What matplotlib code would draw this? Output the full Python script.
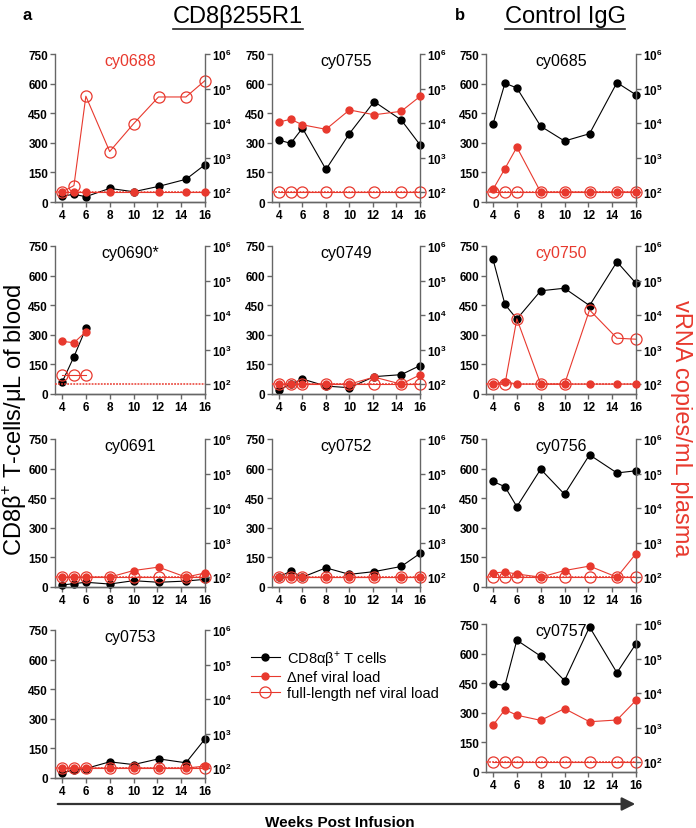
import matplotlib.pyplot as plt
from matplotlib.lines import Line2D
from matplotlib.patches import FancyArrowPatch

plt.rcParams['font.family'] = ['Liberation Sans', 'DejaVu Sans']
plt.rcParams['mathtext.fontset'] = 'custom'
plt.rcParams['mathtext.rm'] = 'Liberation Sans'
plt.rcParams['mathtext.bf'] = 'Liberation Sans:bold'

RED = '#e8392e'
SPINE = '#666666'

weeks = [4, 5, 6, 8, 10, 12.1, 14.4, 16]
weeks_0690 = [4, 5, 6]

# CD8ab+ T cells / uL (left axis)
cd8_0688 = [30, 39, 27, 69, 52, 79, 115, 189]
cd8_0755 = [314, 297, 374, 165, 347, 509, 416, 290]
cd8_0685 = [396, 602, 578, 384, 309, 346, 605, 543]
cd8_0690 = [59, 189, 332]
cd8_0749 = [20, 50, 76, 40, 32, 88, 98, 144]
cd8_0750 = [682, 454, 380, 523, 536, 448, 670, 561]
cd8_0691 = [10, 17, 24, 15, 32, 24, 30, 39]
cd8_0752 = [50, 81, 50, 97, 64, 78, 104, 170]
cd8_0756 = [535, 508, 407, 597, 470, 670, 578, 589]
cd8_0753 = [27, 41, 48, 82, 68, 97, 77, 198]
cd8_0757 = [448, 438, 668, 587, 463, 735, 503, 650]

# delta-nef viral load, copies/mL (right axis)
dnef_0688 = [100, 100, 100, 100, 100, 100, 100, 100]
dnef_0755 = [10700, 12900, 8900, 6600, 24000, 17400, 21900, 59000]
dnef_0685 = [120, 480, 2000, 100, 100, 100, 100, 100]
dnef_0690 = [1740, 1580, 3300]
dnef_0749 = [100, 100, 100, 100, 100, 160, 100, 186]
dnef_0750 = [100, 118, 100, 100, 100, 100, 100, 100]
dnef_0691 = [100, 100, 100, 100, 155, 195, 100, 132]
dnef_0752 = [100, 100, 100, 100, 100, 100, 100, 100]
dnef_0756 = [132, 141, 123, 100, 155, 209, 100, 480]
dnef_0753 = [100, 100, 100, 100, 100, 100, 100, 115]
dnef_0757 = [1175, 3300, 2290, 1620, 3550, 1480, 1660, 6170]

# full-length nef viral load, copies/mL (right axis)
full_0688 = [100, 155, 60000, 1500, 9500, 57000, 57000, 170000]
full_0755 = [100, 100, 100, 100, 100, 100, 100, 100]
full_0685 = [100, 100, 100, 100, 100, 100, 100, 100]
full_0690 = [186, 186, 186]
full_0749 = [100, 100, 100, 100, 100, 100, 100, 100]
full_0750 = [100, 100, 7800, 100, 100, 14100, 2140, 2000]
full_0691 = [100, 100, 100, 100, 100, 100, 100, 100]
full_0752 = [100, 100, 100, 100, 100, 100, 100, 100]
full_0756 = [100, 100, 100, 100, 100, 100, 100, 100]
full_0753 = [100, 100, 100, 100, 100, 100, 100, 100]
full_0757 = [100, 100, 100, 100, 100, 100, 100, 100]

detection_limit = 100

W, H = 696, 829
fig = plt.figure(figsize=(W / 100, H / 100), dpi=100)


def px_axes(left, bottom, width, height):
    # pixel box (bottom = y of the x axis from the top) -> figure fraction
    return fig.add_axes([left / W, 1 - bottom / H, width / W, height / H])


def draw_panel(box, title, wk, cd8, dnef, full, title_color='black'):
    ax = px_axes(*box)
    ax2 = ax.twinx()

    ax.plot(wk, cd8, '-o', color='black', lw=0.8, ms=5, clip_on=False, zorder=3)
    ax2.axhline(detection_limit, color=RED, lw=1.1, ls=(0, (1.2, 0.8)), zorder=1)
    ax2.plot(wk, full, '-o', color=RED, lw=0.8, ms=8, mfc='none', mew=0.9,
             clip_on=False, zorder=2)
    ax2.plot(wk, dnef, '-o', color=RED, lw=0.8, ms=5, clip_on=False, zorder=3)

    ax.set_xlim(3.41, 16)
    ax.set_ylim(0, 750)
    ax.set_xticks([4, 6, 8, 10, 12, 14, 16])
    ax.set_yticks([0, 150, 300, 450, 600, 750])
    ax2.set_yscale('log')
    ax2.set_ylim(10 ** (2 - 50 / 175), 1e6)
    ax2.set_yticks([1e2, 1e3, 1e4, 1e5, 1e6])
    ax2.set_yticklabels([r'$\mathbf{10^{%d}}$' % p for p in range(2, 7)])
    ax2.minorticks_off()

    for a in (ax, ax2):
        a.spines['top'].set_visible(False)
        for s in a.spines.values():
            s.set_color(SPINE)
            s.set_linewidth(1.0)
        a.tick_params(length=3.5, width=1.0, color=SPINE, labelsize=8.5, pad=1.5)
    ax.spines['right'].set_visible(False)
    ax2.spines['left'].set_visible(False)
    for lab in ax.get_xticklabels() + ax.get_yticklabels():
        lab.set_fontweight('bold')
    ax.text(0.5, 0.955, title, transform=ax.transAxes, ha='center', va='center',
            fontsize=11.5, color=title_color)
    return ax


cols = [55, 272, 486]
widths = [150, 148, 150]
h = 148

draw_panel((cols[0], 203, widths[0], h), 'cy0688', weeks, cd8_0688, dnef_0688, full_0688, RED)
draw_panel((cols[0], 395, widths[0], h), 'cy0690*', weeks_0690, cd8_0690, dnef_0690, full_0690)
draw_panel((cols[0], 588, widths[0], h), 'cy0691', weeks, cd8_0691, dnef_0691, full_0691)
draw_panel((cols[0], 779, widths[0], h), 'cy0753', weeks, cd8_0753, dnef_0753, full_0753)

draw_panel((cols[1], 203, widths[1], h), 'cy0755', weeks, cd8_0755, dnef_0755, full_0755)
draw_panel((cols[1], 395, widths[1], h), 'cy0749', weeks, cd8_0749, dnef_0749, full_0749)
draw_panel((cols[1], 588, widths[1], h), 'cy0752', weeks, cd8_0752, dnef_0752, full_0752)

draw_panel((cols[2], 203, widths[2], h), 'cy0685', weeks, cd8_0685, dnef_0685, full_0685)
draw_panel((cols[2], 395, widths[2], h), 'cy0750', weeks, cd8_0750, dnef_0750, full_0750, RED)
draw_panel((cols[2], 588, widths[2], h), 'cy0756', weeks, cd8_0756, dnef_0756, full_0756)
draw_panel((cols[2], 773, widths[2], h), 'cy0757', weeks, cd8_0757, dnef_0757, full_0757)

# legend in the empty slot
handles = [
    Line2D([], [], color='black', marker='o', lw=0.8, ms=5),
    Line2D([], [], color=RED, marker='o', lw=0.8, ms=5),
    Line2D([], [], color=RED, marker='o', lw=0.8, ms=8, mfc='none', mew=0.9),
]
labels = [r'CD8αβ$^{+}$ T cells', 'Δnef viral load', 'full-length nef viral load']
fig.legend(handles, labels, loc='upper left', bbox_to_anchor=(245 / W, 1 - 643 / H),
           frameon=False, fontsize=10.5, handlelength=2.0, handletextpad=0.5,
           labelspacing=0.15, borderaxespad=0)

# axis labels shared by all panels
fig.text(15 / W, 1 - 420 / H, r'CD8β$^{+}$ T-cells/μL of blood', rotation=90,
         ha='center', va='center', fontsize=17)
fig.text(681 / W, 1 - 428 / H, 'vRNA copies/mL plasma', rotation=270, color=RED,
         ha='center', va='center', fontsize=17)

# headers
fig.text(27 / W, 1 - 16 / H, 'a', fontweight='bold', fontsize=12, ha='center', va='center')
fig.text(460 / W, 1 - 16 / H, 'b', fontweight='bold', fontsize=12, ha='center', va='center')
hdr1 = fig.text(238 / W, 1 - 17 / H, 'CD8β255R1', fontsize=17, ha='center', va='center')
hdr2 = fig.text(565 / W, 1 - 17 / H, 'Control IgG', fontsize=17, ha='center', va='center')

fig.canvas.draw()
for t in (hdr1, hdr2):
    bb = t.get_window_extent().transformed(fig.transFigure.inverted())
    y = bb.y0 - 1.5 / H
    fig.add_artist(Line2D([bb.x0, bb.x1], [y, y], color='#222222', lw=1.2,
                          transform=fig.transFigure))

# weeks arrow
fig.add_artist(FancyArrowPatch(
    (55 / W, 1 - 805 / H), (638 / W, 1 - 805 / H), transform=fig.transFigure,
    arrowstyle='-|>,head_length=8,head_width=4', color='#333333', lw=1.6))
fig.text(340 / W, 1 - 823 / H, 'Weeks Post Infusion', fontweight='bold', fontsize=11,
         ha='center', va='center')

fig.savefig('out.png', dpi=100)
